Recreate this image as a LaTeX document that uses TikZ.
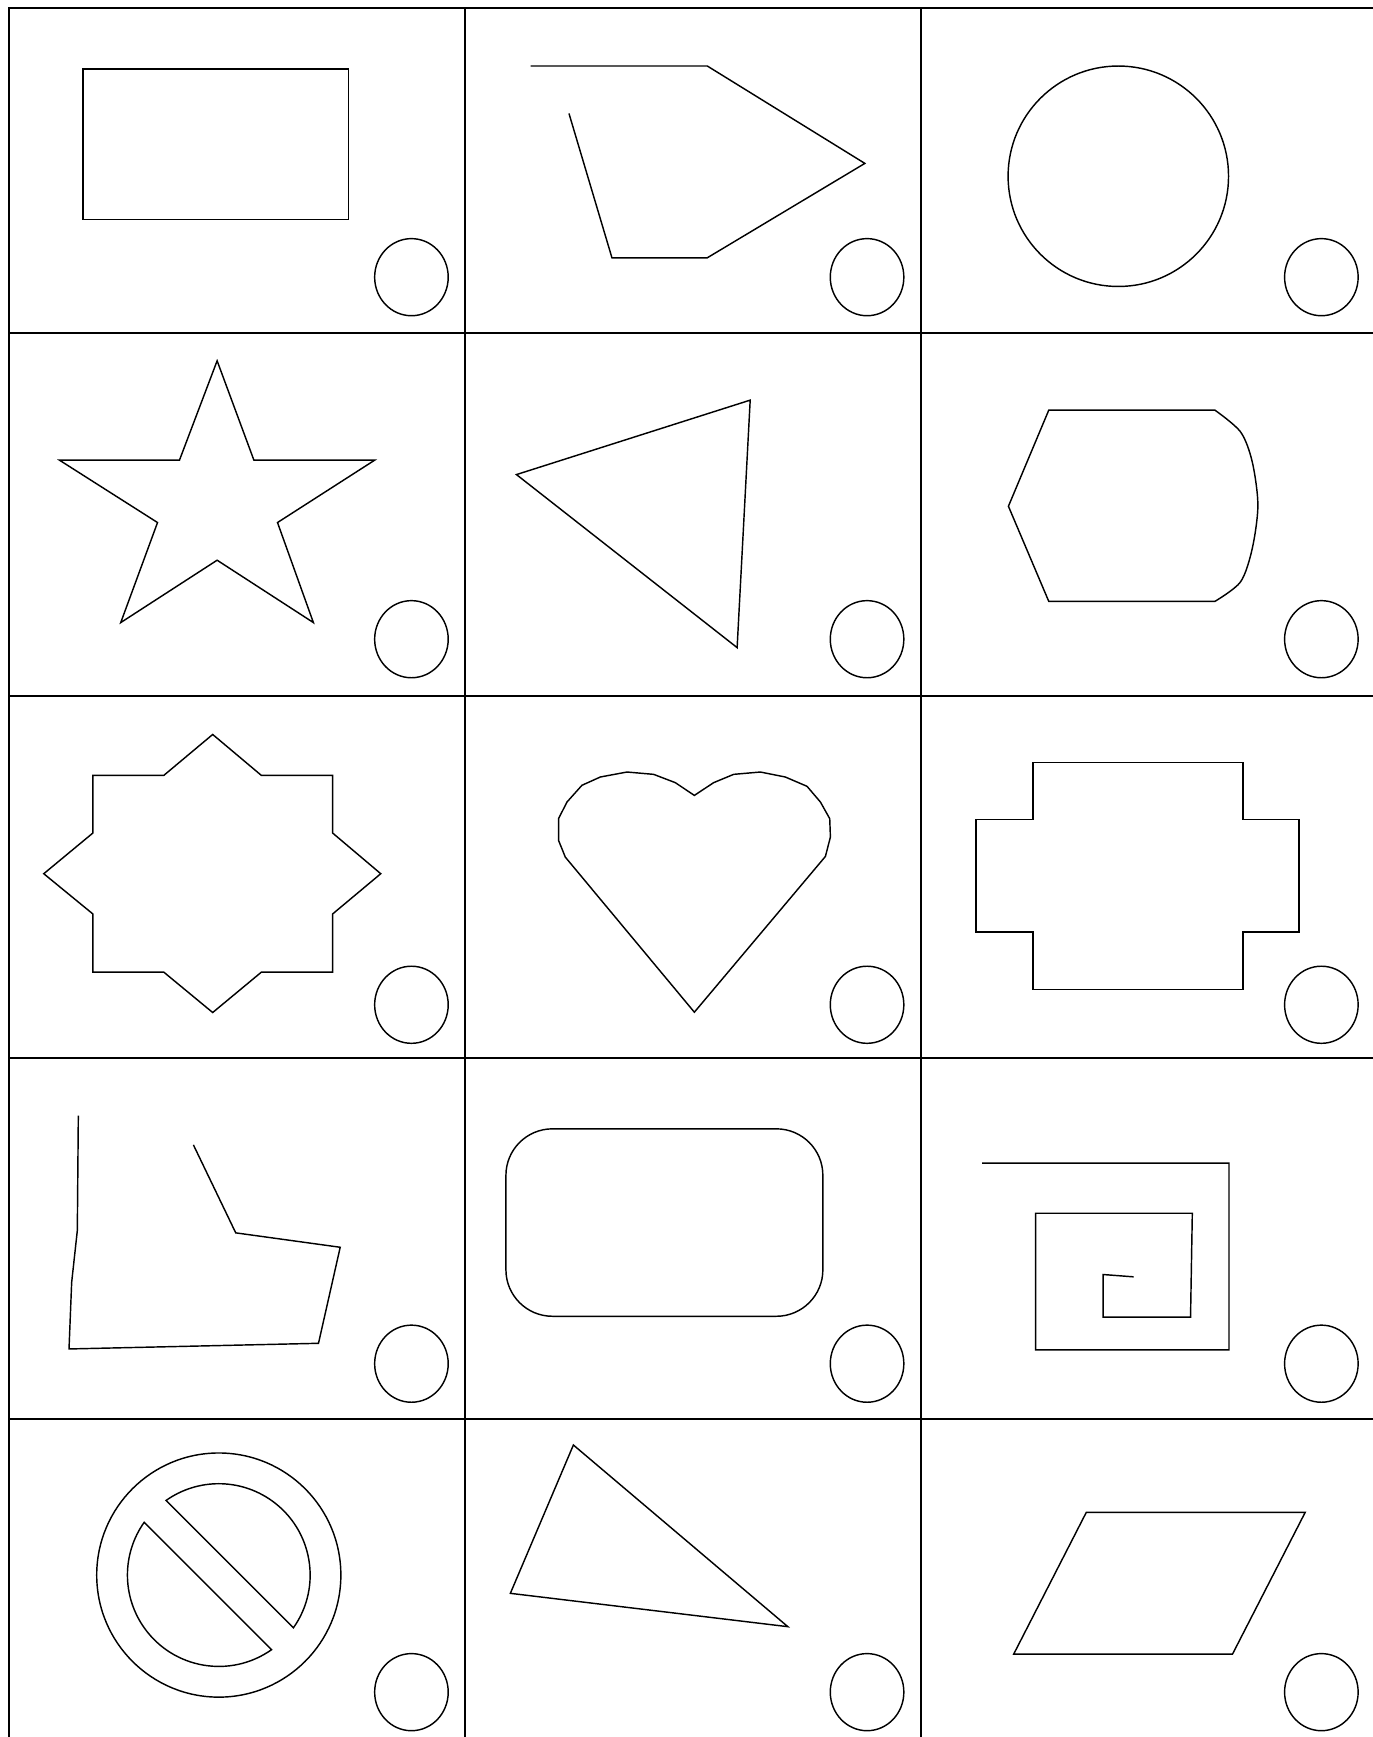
\documentclass[tikz,border=0pt]{standalone}
\begin{document}
\begin{tikzpicture}[x=1pt,y=-1pt,
  gridline/.style={line width=1.8pt,line cap=rect},
  fig/.style={line width=1.3pt,line join=miter},
  marker/.style={line width=1.3pt}]
\useasboundingbox (0,0) rectangle (1239,1568);
% grid
\foreach \yy in {7.5,301,628.3,955,1281}
  \draw[gridline] (8,\yy) -- (1245,\yy);
\foreach \xx in {8,420,831.3}
  \draw[gridline] (\xx,7.5) -- (\xx,1575);
% small circles
\foreach \yy in {250.2,577,907,1231,1527.5}
  \foreach \xx in {371.4,782.7,1192.8}
    \draw[marker] (\xx,\yy) ellipse [x radius=33.2, y radius=34.8];
% row 1
\draw[fig] (75,62.3) rectangle (314.5,198);
\draw[fig] (478.9,59.6) -- (638.5,59.6) -- (780.7,147.5) -- (638.5,232.7) -- (552.4,232.7) -- (513.6,102.4);
\draw[fig] (1009.5,159.1) circle [radius=99.5];
% row 2
\draw[fig] (196,325.7) -- (229.2,415.4) -- (338.2,415.4) -- (250.5,471.7) -- (282.9,562) -- (196,505.7) -- (109,562) -- (142.2,471.7) -- (53.7,415.4) -- (162,415.4) -- cycle;
\draw[fig] (466.2,428.4) -- (677.2,361.2) -- (665.4,584.6) -- cycle;
\draw[fig] (946.7,370.3)
  -- plot[smooth,tension=0.5] coordinates {(1096.8,370.3) (1119.8,389.8) (1130.4,416.9) (1135.5,456.1) (1130.4,495.2) (1119.8,525.3) (1096.8,542.8)}
  -- (946.7,542.8) -- (910.3,457) -- cycle;
% row 3
\draw[fig] (192,663) -- (236,700) -- (300.3,700) -- (300.3,752) -- (343.7,788.7) -- (300.3,825) -- (300.3,877.5) -- (236,877.5) -- (192,914) -- (147.8,877.5) -- (83.8,877.5) -- (83.8,825) -- (39.5,788.7) -- (83.8,752) -- (83.8,700) -- (147.8,700) -- cycle;
\draw[fig] (626.8,718) -- (644.2,706.5) -- (662.3,699) -- (686.4,696.9) -- (708.9,701.4) -- (728.5,709.8) -- (740.6,724) -- (749,739) -- (749.6,755.6) -- (745.1,773.1) -- (626.8,913.7) -- (510.3,773.7) -- (504.2,758.6) -- (504.2,739) -- (511.8,724) -- (525.3,708.9) -- (541.9,701.4) -- (566,696.9) -- (590,699) -- (609.6,706.5) -- cycle;
\draw[fig] (932.4,688.5) -- (1122.1,688.5) -- (1122.1,739.6) -- (1172.7,739.6) -- (1172.7,841.4) -- (1122.1,841.4) -- (1122.1,893.2) -- (932.4,893.2) -- (932.4,841.4) -- (881.1,841.4) -- (881.1,739.6) -- (932.4,739.6) -- cycle;
% row 4
\draw[fig] (70.7,1007) -- (69.8,1110.8) -- (64.7,1157.5) -- (62.3,1217.7) -- (287.5,1212.6) -- (307.1,1125.9) -- (212.8,1112.9) -- (174.6,1033.5);
\draw[fig,rounded corners=42pt] (456.7,1019) rectangle (742.8,1188.2);
\draw[fig] (886.6,1050) -- (1109.4,1050) -- (1109.4,1218.6) -- (934.8,1218.6) -- (934.8,1095.2) -- (1076.3,1095.2) -- (1074.7,1189) -- (995.7,1189) -- (995.7,1150.5) -- (1023.3,1152.6);
% row 5
\draw[fig] (197.5,1421.8) circle [radius=110.2];
\begin{scope}[shift={(197.5,1421.8)},rotate=-45]
  \draw[fig] (81.3,14) arc [start angle=9.8, end angle=170.2, radius=82.5] -- cycle;
  \draw[fig] (81.3,-14) arc [start angle=-9.8, end angle=-170.2, radius=82.5] -- cycle;
\end{scope}
\draw[fig] (517.6,1304.4) -- (711.2,1468.4) -- (460.7,1438.3) -- cycle;
\draw[fig] (980.6,1365.2) -- (1178.2,1365.2) -- (1112.6,1493.1) -- (915.1,1493.1) -- cycle;
\end{tikzpicture}
\end{document}
